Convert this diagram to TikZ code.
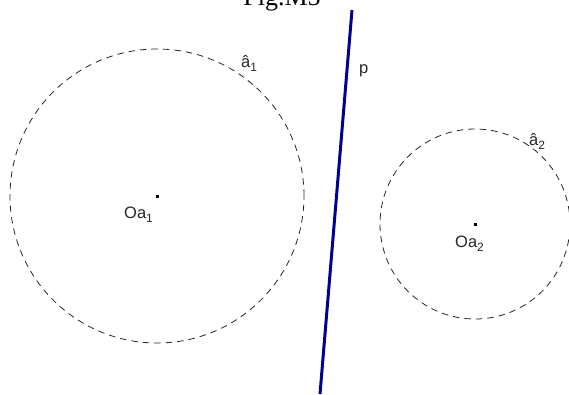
\documentclass[tikz,border=0pt]{standalone}
\usepackage{fontspec}
\setmainfont{Liberation Serif}
\setsansfont{Liberation Sans}
\newcommand{\mysub}[1]{\raisebox{-4.5pt}{\fontsize{12}{12}\selectfont #1}}
\begin{document}
\begin{tikzpicture}[x=1pt,y=-1pt,
  circ/.style={circle,draw=black!85,line width=0.8pt,dash pattern=on 6.5pt off 5pt,inner sep=0pt},
  lbl/.style={font=\sffamily\fontsize{16.5}{16.5}\selectfont,anchor=base west,inner sep=0pt,text=black!85},
  ctr/.style={fill=black,inner sep=0pt,minimum size=3pt},
  pline/.style={draw={rgb,255:red,0;green,0;blue,140},line width=3pt}]
\useasboundingbox (0,0) rectangle (569,394);
\node[font=\rmfamily\fontsize{26}{26}\selectfont,anchor=base,inner sep=0pt] (title) at (282,5) {Fig.M5};
\node[circ,minimum size=294pt] (c1) at (157,196) {};
\node[circ,minimum size=190pt] (c2) at (475,224) {};
\node[ctr] (o1) at (157,196) {};
\node[ctr] (o2) at (475,224) {};
\coordinate (ptop) at (352,10);
\coordinate (pbot) at (320,394);
\draw[pline] (ptop) -- (pbot);
\node[lbl] (l1) at (124,218) {Oa\mysub{1}};
\node[lbl] (l2) at (455,247) {Oa\mysub{2}};
\node[lbl] (h1) at (241,67) {â\mysub{1}};
\node[lbl] (h2) at (529,145) {â\mysub{2}};
\node[lbl] (lp) at (359,73) {p};
\end{tikzpicture}
\end{document}
